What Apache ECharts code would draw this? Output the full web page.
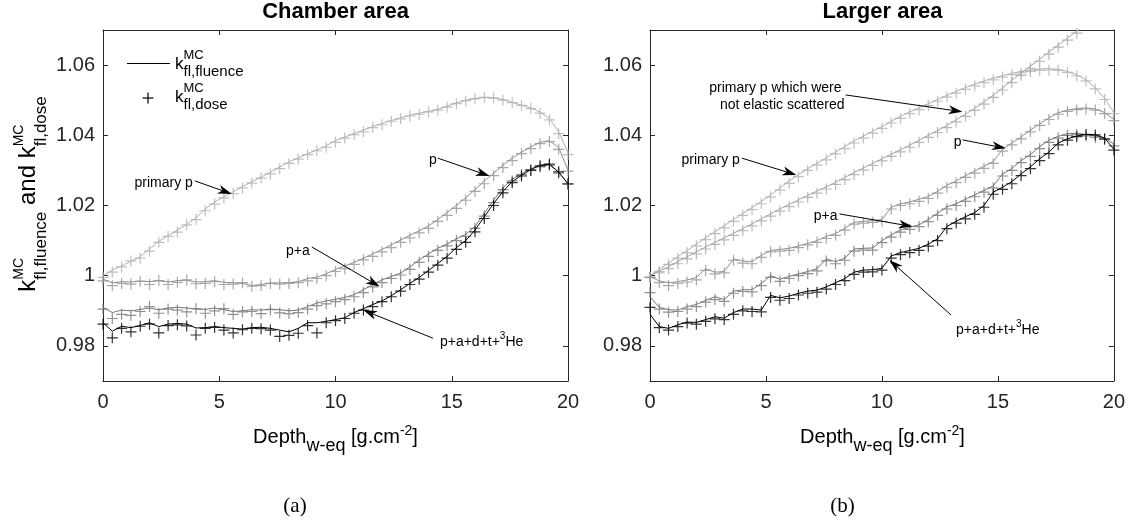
<!DOCTYPE html>
<html><head><meta charset="utf-8">
<script src="https://cdn.jsdelivr.net/npm/echarts@6/dist/echarts.min.js"></script>
<style>html,body{margin:0;padding:0;background:#fff;}#c{width:1128px;height:524px;}</style>
</head><body><div id="c"></div>
<script>
// ---------------- DATA ----------------
const depth = [0,0.4,0.8,1.2,1.6,2,2.4,2.8,3.2,3.6,4,4.4,4.8,5.2,5.6,6,6.4,6.8,7.2,7.6,8,8.4,8.8,9.2,9.6,10,10.4,10.8,11.2,11.6,12,12.4,12.8,13.2,13.6,14,14.4,14.8,15.2,15.6,16,16.4,16.8,17.2,17.6,18,18.4,18.8,19.2,19.6,20];
const xTicks = [0,5,10,15,20];
const yTicks = [0.98,1.00,1.02,1.04,1.06];
const yTickLabels = ['0.98','1','1.02','1.04','1.06'];

// (a) Chamber area
const chPrimaryFl = [1.0000,1.0016,1.0028,1.0041,1.0054,1.0076,1.0098,1.0114,1.0130,1.0146,
1.0165,1.0190,1.0210,1.0225,1.0239,1.0254,1.0268,1.0281,1.0295,1.0310,
1.0324,1.0336,1.0348,1.0358,1.0370,1.0385,1.0395,1.0405,1.0415,1.0425,
1.0434,1.0442,1.0450,1.0457,1.0463,1.0468,1.0474,1.0483,1.0492,1.0500,
1.0505,1.0508,1.0507,1.0502,1.0494,1.0486,1.0478,1.0466,1.0448,1.0410,1.0350];
const chPrimaryDose = [0.9995,1.0010,1.0025,1.0042,1.0050,1.0070,1.0095,1.0112,1.0124,1.0145,
1.0160,1.0185,1.0204,1.0222,1.0234,1.0250,1.0264,1.0278,1.0290,1.0305,
1.0320,1.0332,1.0345,1.0356,1.0366,1.0380,1.0392,1.0402,1.0410,1.0422,
1.0430,1.0440,1.0447,1.0455,1.0460,1.0467,1.0472,1.0480,1.0490,1.0498,
1.0504,1.0508,1.0506,1.0500,1.0493,1.0485,1.0476,1.0463,1.0444,1.0405,1.0345];
const chPFl = [0.9990,0.9980,0.9983,0.9982,0.9985,0.9983,0.9986,0.9982,0.9986,0.9987,
0.9982,0.9983,0.9986,0.9981,0.9980,0.9978,0.9972,0.9975,0.9979,0.9980,
0.9980,0.9983,0.9992,0.9996,1.0005,1.0018,1.0028,1.0038,1.0050,1.0062,
1.0075,1.0088,1.0102,1.0115,1.0128,1.0142,1.0160,1.0180,1.0200,1.0222,
1.0245,1.0270,1.0292,1.0315,1.0335,1.0352,1.0367,1.0380,1.0385,1.0365,1.0300];
const chPDose = [0.9985,0.9972,0.9978,0.9976,0.9984,0.9975,0.9986,0.9975,0.9981,0.9988,
0.9977,0.9978,0.9983,0.9975,0.9976,0.9980,0.9970,0.9972,0.9978,0.9976,
0.9978,0.9980,0.9985,0.9992,1.0000,1.0012,1.0020,1.0032,1.0045,1.0055,
1.0068,1.0080,1.0095,1.0108,1.0122,1.0135,1.0155,1.0172,1.0192,1.0215,
1.0240,1.0262,1.0285,1.0308,1.0328,1.0348,1.0362,1.0376,1.0382,1.0360,1.0298];
const chPAFl = [0.9910,0.9895,0.9902,0.9900,0.9904,0.9908,0.9903,0.9908,0.9910,0.9908,
0.9905,0.9904,0.9908,0.9903,0.9898,0.9900,0.9903,0.9902,0.9905,0.9903,
0.9900,0.9902,0.9912,0.9922,0.9928,0.9933,0.9938,0.9946,0.9960,0.9975,
0.9988,0.9998,1.0007,1.0025,1.0045,1.0062,1.0078,1.0090,1.0105,1.0118,
1.0140,1.0178,1.0215,1.0250,1.0275,1.0290,1.0305,1.0313,1.0316,1.0295,1.0262];
const chPADose = [0.9905,0.9878,0.9890,0.9887,0.9898,0.9912,0.9893,0.9905,0.9902,0.9897,
0.9906,0.9893,0.9900,0.9906,0.9890,0.9897,0.9898,0.9892,0.9903,0.9894,
0.9892,0.9895,0.9905,0.9915,0.9920,0.9926,0.9932,0.9940,0.9952,0.9968,
0.9980,0.9992,1.0002,1.0018,1.0038,1.0055,1.0072,1.0085,1.0100,1.0112,
1.0135,1.0170,1.0208,1.0245,1.0270,1.0288,1.0302,1.0310,1.0314,1.0292,1.0260];
const chAllFl = [0.9866,0.9842,0.9856,0.9852,0.9858,0.9866,0.9855,0.9862,0.9864,0.9862,
0.9851,0.9852,0.9855,0.9852,0.9850,0.9848,0.9852,0.9853,0.9850,0.9845,
0.9840,0.9850,0.9866,0.9866,0.9870,0.9875,0.9880,0.9895,0.9906,0.9918,
0.9928,0.9943,0.9960,0.9978,0.9995,1.0015,1.0035,1.0055,1.0080,1.0100,
1.0130,1.0168,1.0205,1.0240,1.0268,1.0286,1.0302,1.0315,1.0318,1.0295,1.0262];
const chAllDose = [0.9862,0.9823,0.9850,0.9840,0.9856,0.9862,0.9837,0.9858,0.9860,0.9857,
0.9831,0.9850,0.9853,0.9845,0.9837,0.9846,0.9850,0.9849,0.9845,0.9827,
0.9830,0.9836,0.9858,0.9837,0.9866,0.9872,0.9878,0.9893,0.9902,0.9912,
0.9926,0.9940,0.9956,0.9975,0.9990,1.0010,1.0030,1.0050,1.0075,1.0095,
1.0125,1.0163,1.0200,1.0236,1.0265,1.0284,1.0300,1.0313,1.0318,1.0296,1.0262];

// (b) Larger area
const lgPrimaryFl = [1.0000,1.0018,1.0036,1.0054,1.0072,1.0090,1.0108,1.0125,1.0142,1.0160,
1.0177,1.0194,1.0212,1.0230,1.0250,1.0270,1.0288,1.0305,1.0320,1.0336,
1.0352,1.0368,1.0384,1.0398,1.0412,1.0425,1.0440,1.0454,1.0467,1.0478,
1.0490,1.0502,1.0514,1.0525,1.0536,1.0546,1.0555,1.0563,1.0570,1.0577,
1.0582,1.0586,1.0589,1.0590,1.0588,1.0582,1.0572,1.0558,1.0535,1.0505,1.0465];
const lgPrimaryDose = [0.9995,1.0012,1.0032,1.0050,1.0066,1.0085,1.0103,1.0120,1.0136,1.0155,
1.0172,1.0188,1.0205,1.0224,1.0244,1.0263,1.0282,1.0300,1.0315,1.0330,
1.0347,1.0362,1.0378,1.0392,1.0406,1.0420,1.0435,1.0448,1.0462,1.0473,
1.0485,1.0497,1.0509,1.0520,1.0531,1.0541,1.0550,1.0558,1.0566,1.0573,
1.0578,1.0582,1.0585,1.0586,1.0585,1.0579,1.0569,1.0555,1.0532,1.0502,1.0462];
const lgNonElFl = [1.0000,1.0013,1.0026,1.0040,1.0054,1.0068,1.0082,1.0095,1.0108,1.0121,
1.0134,1.0148,1.0162,1.0176,1.0190,1.0203,1.0216,1.0229,1.0241,1.0253,
1.0266,1.0280,1.0294,1.0307,1.0320,1.0333,1.0346,1.0359,1.0372,1.0386,
1.0400,1.0414,1.0428,1.0444,1.0460,1.0477,1.0495,1.0514,1.0535,1.0556,
1.0577,1.0597,1.0617,1.0637,1.0657,1.0677,1.0697,1.0717,1.0737,1.0757,1.0777];
const lgNonElDose = [0.9995,1.0008,1.0020,1.0034,1.0048,1.0062,1.0076,1.0089,1.0102,1.0115,
1.0128,1.0142,1.0156,1.0170,1.0184,1.0197,1.0210,1.0223,1.0235,1.0247,
1.0260,1.0274,1.0288,1.0301,1.0314,1.0327,1.0340,1.0353,1.0366,1.0380,
1.0394,1.0408,1.0422,1.0438,1.0454,1.0471,1.0489,1.0508,1.0529,1.0550,
1.0571,1.0591,1.0611,1.0631,1.0651,1.0671,1.0691,1.0711,1.0731,1.0751,1.0771];
const lgPFl = [0.9997,0.9985,0.9980,0.9983,0.9988,0.9995,1.0020,1.0010,1.0012,1.0048,
1.0042,1.0040,1.0058,1.0072,1.0075,1.0078,1.0085,1.0092,1.0100,1.0112,
1.0120,1.0135,1.0152,1.0155,1.0157,1.0160,1.0195,1.0205,1.0210,1.0218,
1.0226,1.0240,1.0258,1.0270,1.0285,1.0298,1.0312,1.0325,1.0360,1.0378,
1.0395,1.0415,1.0432,1.0450,1.0464,1.0472,1.0476,1.0478,1.0475,1.0465,1.0445];
const lgPDose = [0.9995,0.9980,0.9972,0.9978,0.9982,0.9988,1.0015,1.0005,1.0008,1.0044,
1.0036,1.0034,1.0052,1.0068,1.0070,1.0072,1.0080,1.0088,1.0095,1.0106,
1.0115,1.0130,1.0147,1.0150,1.0152,1.0155,1.0190,1.0200,1.0205,1.0212,
1.0220,1.0235,1.0252,1.0265,1.0280,1.0292,1.0306,1.0320,1.0355,1.0373,
1.0390,1.0410,1.0428,1.0445,1.0460,1.0468,1.0473,1.0475,1.0472,1.0462,1.0442];
const lgPAFl = [0.9940,0.9910,0.9903,0.9902,0.9912,0.9918,0.9930,0.9940,0.9932,0.9956,
0.9960,0.9960,0.9978,1.0000,0.9990,0.9998,1.0005,1.0012,1.0020,1.0048,
1.0040,1.0050,1.0076,1.0078,1.0079,1.0100,1.0116,1.0130,1.0138,1.0145,
1.0160,1.0178,1.0196,1.0205,1.0218,1.0230,1.0243,1.0256,1.0290,1.0305,
1.0328,1.0345,1.0368,1.0386,1.0397,1.0405,1.0406,1.0402,1.0398,1.0392,1.0375];
const lgPADose = [0.9952,0.9905,0.9896,0.9898,0.9905,0.9912,0.9925,0.9932,0.9927,0.9950,
0.9955,0.9954,0.9972,0.9995,0.9984,0.9992,1.0000,1.0006,1.0014,1.0042,
1.0034,1.0044,1.0070,1.0073,1.0073,1.0094,1.0110,1.0124,1.0132,1.0140,
1.0154,1.0172,1.0190,1.0200,1.0212,1.0225,1.0238,1.0250,1.0284,1.0300,
1.0322,1.0340,1.0362,1.0380,1.0392,1.0400,1.0402,1.0398,1.0394,1.0388,1.0370];
const lgAllFl = [0.9890,0.9855,0.9850,0.9860,0.9868,0.9867,0.9875,0.9883,0.9879,0.9895,
0.9905,0.9905,0.9902,0.9944,0.9937,0.9942,0.9950,0.9956,0.9959,0.9968,
0.9980,0.9992,1.0010,1.0016,1.0017,1.0021,1.0056,1.0066,1.0072,1.0078,
1.0090,1.0105,1.0140,1.0155,1.0168,1.0180,1.0200,1.0238,1.0252,1.0268,
1.0290,1.0310,1.0333,1.0352,1.0378,1.0390,1.0398,1.0403,1.0402,1.0392,1.0360];
const lgAllDose = [0.9910,0.9852,0.9845,0.9855,0.9865,0.9862,0.9870,0.9877,0.9875,0.9890,
0.9900,0.9898,0.9897,0.9938,0.9930,0.9935,0.9945,0.9950,0.9953,0.9962,
0.9975,0.9986,1.0004,1.0010,1.0011,1.0016,1.0050,1.0060,1.0066,1.0072,
1.0084,1.0100,1.0134,1.0150,1.0162,1.0175,1.0195,1.0232,1.0246,1.0262,
1.0285,1.0305,1.0328,1.0348,1.0373,1.0386,1.0396,1.0402,1.0401,1.0390,1.0358];

// ---------------- STYLE ----------------
const FONT = '"Liberation Sans", Arial, Helvetica, sans-serif';
const SERIF = '"Liberation Serif", "DejaVu Serif", serif';
const AX = '#262626';
const C_LIGHT = '#b0b0b0', C_LIGHT2 = '#a6a6a6', C_MID = '#929292', C_DARK = '#767676', C_BLACK = '#000000';
const PLUS = 'path://M9.8,0L12.2,0L12.2,9.8L22,9.8L22,12.2L12.2,12.2L12.2,22L9.8,22L9.8,12.2L0,12.2L0,9.8L9.8,9.8Z';

const panels = [
  {g:0, sets:[
    {fl:chPrimaryFl, dose:chPrimaryDose, color:C_LIGHT},
    {fl:chPFl, dose:chPDose, color:C_MID},
    {fl:chPAFl, dose:chPADose, color:C_DARK},
    {fl:chAllFl, dose:chAllDose, color:C_BLACK}]},
  {g:1, sets:[
    {fl:lgPrimaryFl, dose:lgPrimaryDose, color:C_LIGHT},
    {fl:lgNonElFl, dose:lgNonElDose, color:C_LIGHT2},
    {fl:lgPFl, dose:lgPDose, color:C_MID},
    {fl:lgPAFl, dose:lgPADose, color:C_DARK},
    {fl:lgAllFl, dose:lgAllDose, color:C_BLACK}]}
];

const pairs = ys => depth.map((x,i)=>[x, ys[i]]);
const series = [];
panels.forEach(p=>{
  p.sets.forEach((s,k)=>{
    series.push({type:'line', xAxisIndex:p.g*2, yAxisIndex:p.g*2, data:pairs(s.fl), showSymbol:false, symbol:'none',
      lineStyle:{width:1, color:s.color}, itemStyle:{color:s.color}, clip:true, z:2+k, silent:true, animation:false});
    series.push({type:'scatter', xAxisIndex:p.g*2, yAxisIndex:p.g*2, data:pairs(s.dose), symbol:PLUS, symbolSize:11,
      itemStyle:{color:s.color}, clip:true, z:2+k, silent:true, animation:false});
  });
});

function xAxisCfg(g, top){
  return {type:'value', gridIndex:g, min:0, max:20, interval:5, position: top?'top':'bottom',
    axisLine:{show:true, onZero:false, lineStyle:{color:AX, width:1}},
    axisTick:{show:true, inside:true, length:5, lineStyle:{color:AX}},
    axisLabel:{show:!top, margin:11, color:AX, fontSize:20, fontFamily:FONT,
      formatter: v => xTicks.includes(v) ? String(v) : ''},
    splitLine:{show:false}};
}
function yAxisCfg(g, right){
  return {type:'value', gridIndex:g, min:0.97, max:1.07, position: right?'right':'left',
    axisLine:{show:true, onZero:false, lineStyle:{color:AX, width:1}},
    axisTick:{show:true, inside:true, length:5, customValues:yTicks, lineStyle:{color:AX}},
    axisLabel:{show:!right, margin:8, color:AX, fontSize:20, fontFamily:FONT, customValues:yTicks,
      formatter: v => { const i = yTicks.findIndex(t=>Math.abs(t-v)<1e-9); return i>=0 ? yTickLabels[i] : ''; }},
    splitLine:{show:false}};
}

const chart = echarts.init(document.getElementById('c'), null, {renderer:'canvas'});
chart.setOption({
  animation:false,
  backgroundColor:'#fff',
  grid:[{left:103, top:30, width:465, height:351},{left:650, top:30, width:465, height:351}],
  xAxis:[xAxisCfg(0,false), xAxisCfg(0,true), xAxisCfg(1,false), xAxisCfg(1,true)],
  yAxis:[yAxisCfg(0,false), yAxisCfg(0,true), yAxisCfg(1,false), yAxisCfg(1,true)],
  series
});

// ---------------- TEXT / ANNOTATIONS ----------------
const mctx = document.createElement('canvas').getContext('2d');
function tw(s, size){ mctx.font = size+'px "Liberation Sans"'; return mctx.measureText(s).width; }
function txt(x, baseline, s, size, extra){
  return Object.assign({type:'text', x:x, y: baseline - 0.35*size, silent:true,
    style:{text:s, font: size+'px '+FONT, fill:'#000', align:'left', verticalAlign:'middle'}}, extra||{});
}
function mathLayout(tokens){
  let x=0; const ch=[];
  tokens.forEach(t=>{
    if (t.t!==undefined){ ch.push(txt(x, t.dy||0, t.t, t.s)); x += tw(t.t, t.s); }
    else {
      let w=0;
      if (t.sup){ ch.push(txt(x, t.supDy, t.sup, t.supS)); w=Math.max(w, tw(t.sup,t.supS)); }
      if (t.sub){ ch.push(txt(x, t.subDy, t.sub, t.subS)); w=Math.max(w, tw(t.sub,t.subS)); }
      x += w;
    }
  });
  return {children:ch, width:x};
}
function mathGroup(tokens, x, baseline, align, rotation, z){
  const L = mathLayout(tokens);
  let ox = 0;
  if (align==='center') ox = -L.width/2; else if (align==='right') ox = -L.width;
  L.children.forEach(c=>{ c.x += ox; });
  return {type:'group', x:x, y:baseline, rotation:rotation||0, children:L.children, z:z||100};
}

const graphics = [];
graphics.push({type:'text', x:335.5, y:11.5, silent:true, style:{text:'Chamber area', font:'bold 22px '+FONT, fill:'#000', align:'center', verticalAlign:'middle'}});
graphics.push({type:'text', x:882.5, y:11.5, silent:true, style:{text:'Larger area', font:'bold 22px '+FONT, fill:'#000', align:'center', verticalAlign:'middle'}});
const xTitle = [{t:'Depth', s:20},{sub:'w-eq', subS:18, subDy:8},{t:' [g.cm', s:20},{sup:'-2', supS:14, supDy:-8},{t:']', s:20}];
graphics.push(mathGroup(xTitle, 335.5, 444, 'center'));
graphics.push(mathGroup(xTitle, 882.5, 444, 'center'));
const yTitle = [{t:'k', s:24},{sup:'MC', supS:14, supDy:-13, sub:'fl,fluence', subS:17, subDy:10},{t:' and k', s:24},{sup:'MC', supS:14, supDy:-13, sub:'fl,dose', subS:17, subDy:10}];
{
  const L = mathLayout(yTitle);
  graphics.push({type:'group', x:37, y:194 + L.width/2, rotation:Math.PI/2, children:L.children, z:100});
}
graphics.push({type:'text', x:295, y:506, silent:true, style:{text:'(a)', font:'21px '+SERIF, fill:'#000', align:'center', verticalAlign:'middle'}});
graphics.push({type:'text', x:842.5, y:506, silent:true, style:{text:'(b)', font:'21px '+SERIF, fill:'#000', align:'center', verticalAlign:'middle'}});
graphics.push({type:'line', shape:{x1:127, y1:63.5, x2:170, y2:63.5}, style:{stroke:'#000', lineWidth:1}, silent:true, z:100});
graphics.push({type:'rect', shape:{x:142.5, y:97.4, width:11, height:1.2}, style:{fill:'#000'}, silent:true, z:100});
graphics.push({type:'rect', shape:{x:147.4, y:92.5, width:1.2, height:11}, style:{fill:'#000'}, silent:true, z:100});
graphics.push(mathGroup([{t:'k', s:17},{sup:'MC', supS:13, supDy:-10, sub:'fl,fluence', subS:15, subDy:7}], 175, 70, 'left'));
graphics.push(mathGroup([{t:'k', s:17},{sup:'MC', supS:13, supDy:-10, sub:'fl,dose', subS:15, subDy:7}], 175, 103, 'left'));

const HE = [{t:'p+a+d+t+', s:14},{sup:'3', supS:10, supDy:-7},{t:'He', s:14}];
const notes = [
  {g:0, tail:[3.95,1.0270], tip:[5.54,1.0233], lines:[{text:'primary p', dx:-2, dy:2, align:'right'}]},
  {g:0, tail:[14.4,1.0335], tip:[16.63,1.0284], lines:[{text:'p', dx:-1, dy:2, align:'right'}]},
  {g:0, tail:[8.98,1.0082], tip:[11.9,0.9969], lines:[{text:'p+a', dx:-2, dy:4, align:'right'}]},
  {g:0, tail:[14.19,0.9822], tip:[11.19,0.9902], math:HE, dx:7, dy:9},
  {g:1, tail:[8.43,1.0515], tip:[13.47,1.0467], lines:[{text:'primary p which were', dx:-4, dy:-7, align:'right'},{text:'not elastic scattered', dx:-1, dy:10, align:'right'}]},
  {g:1, tail:[3.96,1.0335], tip:[6.31,1.0287], lines:[{text:'primary p', dx:-2, dy:2, align:'right'}]},
  {g:1, tail:[13.47,1.0387], tip:[15.34,1.0363], lines:[{text:'p', dx:-1, dy:2, align:'right'}]},
  {g:1, tail:[8.17,1.0176], tip:[11.32,1.0140], lines:[{text:'p+a', dx:-2, dy:2, align:'right'}]},
  {g:1, tail:[12.98,0.9888], tip:[10.32,1.0045], math:HE, dx:5, dy:20}
];
notes.forEach(n=>{
  const a = chart.convertToPixel({gridIndex:n.g}, n.tail);
  const b = chart.convertToPixel({gridIndex:n.g}, n.tip);
  const dx=b[0]-a[0], dy=b[1]-a[1], len=Math.hypot(dx,dy), ux=dx/len, uy=dy/len, nx=-uy, ny=ux;
  const L=14, W=4.5, N=4;
  const bx=b[0]-L*ux, by=b[1]-L*uy, kx=b[0]-(L-N)*ux, ky=b[1]-(L-N)*uy;
  graphics.push({type:'line', shape:{x1:a[0], y1:a[1], x2:kx, y2:ky}, style:{stroke:'#000', lineWidth:1}, silent:true, z:100});
  graphics.push({type:'polygon', shape:{points:[[b[0],b[1]],[bx+W*nx,by+W*ny],[kx,ky],[bx-W*nx,by-W*ny]]}, style:{fill:'#000'}, silent:true, z:100});
  if (n.lines) n.lines.forEach(l=>{
    graphics.push({type:'text', x:a[0]+l.dx, y:a[1]+l.dy, silent:true, z:100,
      style:{text:l.text, font:'14px '+FONT, fill:'#000', align:l.align, verticalAlign:'middle'}});
  });
  if (n.math) graphics.push(mathGroup(n.math, a[0]+n.dx, a[1]+n.dy, 'left'));
});
chart.setOption({graphic: graphics});
</script>
</body></html>
